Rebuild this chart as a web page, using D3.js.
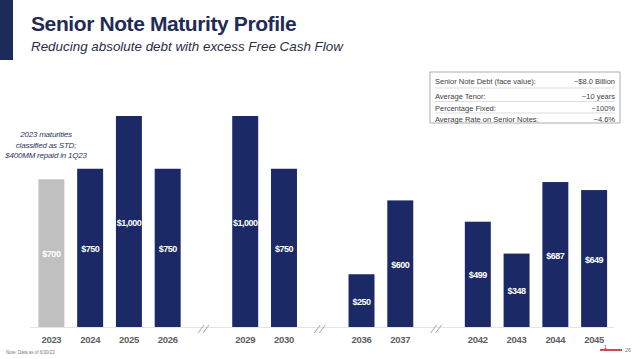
<!DOCTYPE html>
<html><head><meta charset="utf-8">
<script src="https://cdn.jsdelivr.net/npm/d3@7"></script>
<style>body{margin:0;background:#fff}svg{display:block}</style>
</head><body>
<svg id="c" width="640" height="359"></svg>
<script>
const categories = ["2023","2024","2025","2026","//a","2029","2030","//b","2036","2037","//c","2042","2043","2044","2045"];
const years = ["2023","2024","2025","2026","2029","2030","2036","2037","2042","2043","2044","2045"];
const values = [700,750,1000,750,1000,750,250,600,499,348,687,649];
const breaks = ["//a","//b","//c"];
const tableLabels = ["Senior Note Debt (face value):","Average Tenor:","Percentage Fixed:","Average Rate on Senior Notes:"];
const tableValues = ["~$8.0 Billion","~10 years","~100%","~4.6%"];
const noteLines = ["2023 maturities","classified as STD;","$400MM repaid in 1Q23"];

const navy = "#1b2a66", grayBar = "#c0c0c0";
const svg = d3.select("#c");
const font = "Liberation Sans, Arial, sans-serif";

// left accent bar
svg.append("rect").attr("x",0).attr("y",0).attr("width",13).attr("height",60).attr("fill","#1c2b5a");
svg.append("text").attr("x",31).attr("y",31).attr("font-family",font).attr("font-weight","bold")
  .attr("font-size",21).attr("fill","#1f2b55").attr("letter-spacing","-0.4").text("Senior Note Maturity Profile");
svg.append("text").attr("x",31).attr("y",51).attr("font-family",font).attr("font-style","italic")
  .attr("font-size",13.4).attr("fill","#2a2f45").text("Reducing absolute debt with excess Free Cash Flow");

const x = d3.scaleBand().domain(categories).range([32,613.5]).paddingInner(0.33).paddingOuter(0.165);
const y = d3.scaleLinear().domain([0,1000]).range([327,116]);

// baseline
svg.append("line").attr("x1",30).attr("x2",614).attr("y1",327.5).attr("y2",327.5).attr("stroke","#e4e4e4").attr("stroke-width",1);

const data = years.map((yr,i)=>({yr, v:values[i]}));
svg.selectAll("rect.bar").data(data).join("rect").attr("class","bar")
  .attr("x",d=>x(d.yr)).attr("width",x.bandwidth())
  .attr("y",d=>y(d.v)).attr("height",d=>y(0)-y(d.v))
  .attr("fill",d=>d.yr==="2023"?grayBar:navy);

svg.selectAll("text.val").data(data).join("text").attr("class","val")
  .attr("x",d=>x(d.yr)+x.bandwidth()/2).attr("y",d=>(y(d.v)+y(0))/2+4)
  .attr("text-anchor","middle").attr("font-family",font).attr("font-weight","bold")
  .attr("font-size",9).attr("fill","#fff").attr("letter-spacing","-0.5")
  .text(d=>"$"+d3.format(",")(d.v));

// axis labels
const axis = d3.axisBottom(x).tickSize(0).tickFormat(d=>d.startsWith("//")?"":d);
const ax = svg.append("g").attr("transform","translate(0,331)").call(axis);
ax.select(".domain").remove();
ax.selectAll("text").attr("font-family",font).attr("font-weight","bold").attr("font-size",9.5)
  .attr("letter-spacing","-0.3").attr("fill","#606060").attr("dy","0.95em");

// break marks
svg.selectAll("g.brk").data(breaks).join("g").attr("class","brk")
  .attr("transform",d=>`translate(${x(d)+x.bandwidth()/2-3},329)`)
  .each(function(){
    const g=d3.select(this);
    [-2.5,2.5].forEach(o=>g.append("line").attr("x1",o-3).attr("y1",4).attr("x2",o+3).attr("y2",-4)
      .attr("stroke","#a6a6a6").attr("stroke-width",1));
  });

// annotation
svg.append("text").attr("font-family",font).attr("font-style","italic").attr("font-size",8)
  .attr("letter-spacing","-0.2").attr("fill","#2b3660").attr("text-anchor","middle")
  .selectAll("tspan").data(noteLines).join("tspan").attr("x",46).attr("y",(d,i)=>137+i*10.5).text(d=>d);

// info table
const tx=430, ty=72, tw=190, rowY=[81,95.5,107.5,119];
svg.append("rect").attr("x",tx).attr("y",ty).attr("width",tw).attr("height",51)
  .attr("fill","#fff").attr("stroke","#9a9a9a").attr("stroke-width",0.8);
[88,101.5,113].forEach(yy=>svg.append("line").attr("x1",tx+5).attr("x2",tx+tw-5).attr("y1",yy).attr("y2",yy)
  .attr("stroke","#c8c8c8").attr("stroke-width",0.6));
svg.selectAll("text.tl").data(tableLabels).join("text").attr("class","tl")
  .attr("x",tx+5).attr("y",(d,i)=>rowY[i]+3).attr("font-family",font).attr("font-size",7.5).attr("fill","#404040").text(d=>d);
svg.selectAll("text.tv").data(tableValues).join("text").attr("class","tv")
  .attr("x",tx+tw-5).attr("y",(d,i)=>rowY[i]+3).attr("text-anchor","end").attr("font-family",font).attr("font-size",7.5).attr("fill","#404040").text(d=>d);

// footer
svg.append("text").attr("x",6).attr("y",354).attr("font-family",font).attr("font-size",4.5).attr("fill","#777").text("Note: Data as of 6/30/23");
svg.append("line").attr("x1",600).attr("x2",622).attr("y1",350).attr("y2",350).attr("stroke","#c0111b").attr("stroke-width",1.5);
svg.append("text").attr("x",604).attr("y",349).attr("font-family",font).attr("font-size",5).attr("fill","#c0111b").text("1");
svg.append("text").attr("x",625).attr("y",352).attr("font-family",font).attr("font-size",5.5).attr("fill","#777").text("26");
</script>
</body></html>
